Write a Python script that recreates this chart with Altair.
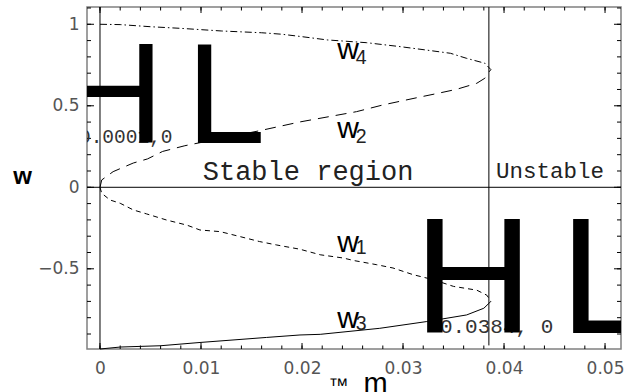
import altair as alt
import pandas as pd

# ---- curve data (m, w) ----
w4_m = [0, 0.002, 0.005, 0.008, 0.012, 0.016, 0.018, 0.020, 0.0225, 0.0264, 0.0297, 0.0323, 0.0347, 0.0363, 0.0381, 0.0387]
w4_w = [1.0, 0.998, 0.985, 0.975, 0.959, 0.948, 0.939, 0.924, 0.904, 0.887, 0.863, 0.842, 0.822, 0.791, 0.761, 0.722]
w2_m = [0, 0.00017, 0.0013, 0.0033, 0.0047, 0.0062, 0.0084, 0.0158, 0.0198, 0.0230, 0.0254, 0.0280, 0.0314, 0.0335, 0.0353, 0.0373, 0.0381, 0.0384, 0.0387]
w2_w = [0, 0.045, 0.096, 0.149, 0.174, 0.220, 0.255, 0.347, 0.401, 0.437, 0.464, 0.505, 0.550, 0.577, 0.601, 0.638, 0.669, 0.699, 0.722]
w1_m = [0, 0.00017, 0.001, 0.002, 0.0033, 0.0046, 0.0066, 0.0086, 0.0099, 0.0119, 0.0139, 0.0158, 0.0175, 0.0198, 0.0218, 0.0241, 0.0251, 0.0274, 0.0290, 0.0310, 0.0330, 0.0350, 0.0373, 0.0383, 0.0387]
w1_w = [0, -0.037, -0.078, -0.098, -0.139, -0.163, -0.201, -0.232, -0.262, -0.272, -0.303, -0.333, -0.354, -0.380, -0.414, -0.434, -0.449, -0.475, -0.495, -0.536, -0.567, -0.608, -0.631, -0.662, -0.700]
w3_m = [0, 0.002, 0.006, 0.0099, 0.0165, 0.0198, 0.0218, 0.0277, 0.0323, 0.0363, 0.0380, 0.0387]
w3_w = [-0.992, -0.980, -0.972, -0.952, -0.921, -0.906, -0.902, -0.865, -0.824, -0.783, -0.742, -0.700]

boundary_m = [0.0385]
boundary_w_low = [-0.97]

# ---- axis ticks ----
x_domain = [-0.001287, 0.05158]
y_domain = [-0.992, 1.106]
x_major = [0, 0.01, 0.02, 0.03, 0.04, 0.05]
x_minor = [0, 0.002, 0.004, 0.006, 0.008, 0.01, 0.012, 0.014, 0.016, 0.018, 0.02, 0.022, 0.024,
           0.026, 0.028, 0.03, 0.032, 0.034, 0.036, 0.038, 0.04, 0.042, 0.044, 0.046, 0.048, 0.05]
y_major = [-0.5, 0, 0.5, 1]
y_minor = [-0.9, -0.8, -0.7, -0.6, -0.5, -0.4, -0.3, -0.2, -0.1, 0, 0.1, 0.2, 0.3, 0.4, 0.5,
           0.6, 0.7, 0.8, 0.9, 1.0, 1.1]

# ---- annotations ----
region_text = ["Stable region"]
region_m = [0.0206]
region_w = [0.045]
unstable_text = ["Unstable"]
unstable_m = [0.04455]
unstable_w = [0.055]

wlab_text = ["w", "w", "w", "w"]
wlab_m = [0.0235, 0.0235, 0.0235, 0.0235]
wlab_w = [0.787, 0.301, -0.395, -0.865]
sub_text = ["4", "2", "1", "3"]
sub_m = [0.02532, 0.02532, 0.02532, 0.02532]
sub_w = [0.756, 0.270, -0.409, -0.875]

big_up_text = ["H", "L"]
big_up_m = [-0.00383, 0.008545]
big_up_w = [0.2736, 0.2736]
big_lo_text = ["H", "L"]
big_lo_m = [0.03104, 0.04550]
big_lo_w = [-0.8957, -0.8957]
pt_up_text = ["0.0001,0"]
pt_up_m = [-0.002084]
pt_up_w = [0.2736]
pt_lo_text = ["0.0384, 0"]
pt_lo_m = [0.03365]
pt_lo_w = [-0.8957]

tm_text = ["™"]
tm_m = [0.0236]

W, H = 534, 342

X = alt.X("m:Q", scale=alt.Scale(domain=x_domain, nice=False, zero=False),
          axis=alt.Axis(values=x_major, format=".2~f", ticks=False, tickSize=0, domain=False, grid=False,
                        labelPadding=11, labelFont="DejaVu Sans", labelFontSize=17, labelColor="#555",
                        labelFlush=False, labelOverlap=False,
                        title="m", titleFont="Liberation Sans", titleFontSize=29, titleFontWeight="normal",
                        titleColor="black", titleX=288, titleY=43, titleAlign="center",
                        titleBaseline="alphabetic"))
Y = alt.Y("w:Q", scale=alt.Scale(domain=y_domain, nice=False, zero=False),
          axis=alt.Axis(values=y_major, format=".1~f", ticks=False, tickSize=0, domain=False, grid=False,
                        labelPadding=8, labelFont="DejaVu Sans", labelFontSize=17, labelColor="#555",
                        labelFlush=False, labelOverlap=False,
                        title="w", titleFont="Liberation Sans", titleFontSize=24, titleFontWeight="bold",
                        titleColor="black", titleAngle=0, titleX=-65, titleY=176, titleAlign="center",
                        titleBaseline="alphabetic"))

TICK_COLOR = "black"
TICK_W = 1


def curve(ms, ws, dash):
    df = pd.DataFrame({"m": ms, "w": ws, "i": list(range(len(ms)))})
    kw = dict(color="black", strokeWidth=1)
    if dash:
        kw["strokeDash"] = dash
    return alt.Chart(df).mark_line(**kw).encode(x=X, y=Y, order=alt.Order("i:Q"))


def texts(txt, ms, ws, clip=False, **kw):
    df = pd.DataFrame({"m": ms, "w": ws, "t": txt})
    return alt.Chart(df).mark_text(clip=clip, **kw).encode(x=X, y=Y, text="t:N")


def xticks(vals, length, at_top):
    df = pd.DataFrame({"m": vals})
    y0, y1 = (0, length) if at_top else (H, H - length)
    return alt.Chart(df).mark_rule(color=TICK_COLOR, strokeWidth=TICK_W).encode(
        x=X, y=alt.value(y0), y2=alt.value(y1))


def yticks(vals, length, at_right):
    df = pd.DataFrame({"w": vals})
    x0, x1 = (W, W - length) if at_right else (0, length)
    return alt.Chart(df).mark_rule(color=TICK_COLOR, strokeWidth=TICK_W).encode(
        y=Y, x=alt.value(x0), x2=alt.value(x1))


layers = []
layers.append(curve(w4_m, w4_w, [7, 3, 1.5, 3]))
layers.append(curve(w2_m, w2_w, [11, 7]))
layers.append(curve(w1_m, w1_w, [5, 4]))
layers.append(curve(w3_m, w3_w, None))

# axes lines through origin
layers.append(alt.Chart(pd.DataFrame({"m": [0]})).mark_rule(color="black", strokeWidth=1).encode(
    x=X, y=alt.value(0), y2=alt.value(H)))
layers.append(alt.Chart(pd.DataFrame({"w": [0]})).mark_rule(color="black", strokeWidth=1).encode(
    y=Y, x=alt.value(0), x2=alt.value(W)))
# stability boundary
layers.append(alt.Chart(pd.DataFrame({"m": boundary_m, "w": boundary_w_low})).mark_rule(
    color="black", strokeWidth=1).encode(x=X, y=Y, y2=alt.value(0)))

# frame ticks (inside)
layers.append(xticks(x_major, 6, False))
layers.append(xticks(x_minor, 3.5, False))
layers.append(xticks(x_major, 6, True))
layers.append(xticks(x_minor, 3.5, True))
layers.append(yticks(y_major, 7, False))
layers.append(yticks(y_minor, 4, False))
layers.append(yticks(y_major, 7, True))
layers.append(yticks(y_minor, 4, True))

# region labels
layers.append(texts(region_text, region_m, region_w, font="Liberation Mono", fontSize=27,
                    align="center", baseline="alphabetic", color="#222"))
layers.append(texts(unstable_text, unstable_m, unstable_w, font="Liberation Mono", fontSize=22.5,
                    align="center", baseline="alphabetic", color="#222"))
# curve labels
layers.append(texts(wlab_text, wlab_m, wlab_w, font="Liberation Sans Narrow, Liberation Sans", fontSize=30,
                    align="left", baseline="alphabetic", color="black"))
layers.append(texts(sub_text, sub_m, sub_w, font="Liberation Sans", fontSize=19.5,
                    align="left", baseline="alphabetic", color="#222"))
# big bracket glyphs and point labels (clipped to plot)
layers.append(texts(pt_up_text, pt_up_m, pt_up_w, clip=True, font="Liberation Mono", fontSize=19.5,
                    align="left", baseline="alphabetic", color="#333"))
layers.append(texts(pt_lo_text, pt_lo_m, pt_lo_w, clip=True, font="Liberation Mono", fontSize=21,
                    align="left", baseline="alphabetic", color="#333"))
layers.append(texts(big_up_text, big_up_m, big_up_w, clip=True, font="Liberation Sans", fontSize=142.5,
                    align="left", baseline="alphabetic", color="black"))
layers.append(texts(big_lo_text, big_lo_m, big_lo_w, clip=True, font="Liberation Sans", fontSize=166,
                    align="left", baseline="alphabetic", color="black"))
# the stray symbol next to the x title
layers.append(alt.Chart(pd.DataFrame({"m": tm_m, "t": tm_text})).mark_text(
    font="Liberation Sans", fontSize=20, align="center", baseline="alphabetic", color="black").encode(
    x=X, y=alt.value(384.6), text="t:N"))

chart = alt.layer(*layers).properties(
    width=W, height=H,
    padding={"left": 87, "top": 7, "right": 11, "bottom": 43},
    autosize=alt.AutoSizeParams(type="none"),
    background="white",
).configure_view(stroke="#808080", strokeWidth=1.5)

chart.save("out.html", embed_options={"renderer": "svg", "actions": False})
